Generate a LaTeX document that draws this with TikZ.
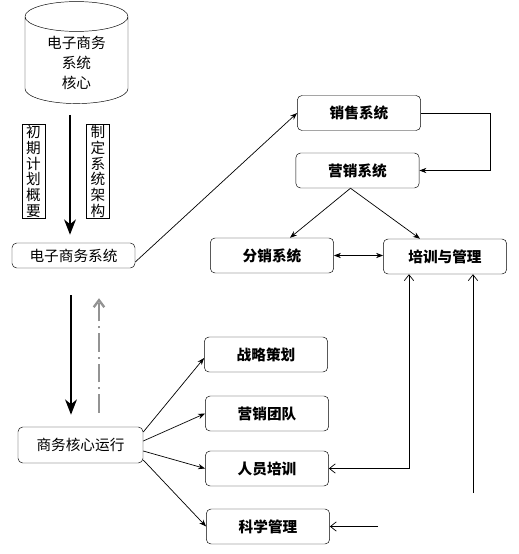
\documentclass[tikz,border=0pt]{standalone}
\usepackage{fontspec}
\setmainfont{Noto Sans CJK SC}
\usetikzlibrary{shapes.geometric,arrows.meta,positioning,calc}

\begin{document}
\begin{tikzpicture}[x=0.03cm, y=-0.03cm,
    box/.style={draw, rounded corners=4pt, minimum width=3.7cm, minimum height=1.05cm, font=\fontsize{12.5}{14}\selectfont},
    boldbox/.style={box, font=\fontsize{12.5}{14}\selectfont\bfseries},
    vlabel/.style={draw, align=center, inner sep=1pt, minimum width=0.69cm, minimum height=2.79cm, font=\fontsize{12.5}{13.4}\selectfont},
    conn/.style={-{Stealth[length=6pt,width=4.5pt]}, line width=0.6pt},
    barb/.style={-{Straight Barb[length=5pt,width=8pt]}, line width=0.6pt},
    bigarrow/.style={-{Stealth[length=13pt,width=10pt,inset=4pt]}, line width=2pt}]
    \useasboundingbox (0,0) rectangle (518,554);

    % core and left column
    \node[draw, cylinder, shape border rotate=90, aspect=0.45, minimum width=3.09cm, minimum height=3.06cm,
          align=center, font=\fontsize{12.5}{17}\selectfont] (core) at (76.5,63) {电子商务\\系统\\核心};
    \node[vlabel] (plan) at (33.5,171.5) {初\\期\\计\\划\\概\\要};
    \node[vlabel] (arch) at (98,171.5) {制\\定\\系\\统\\架\\构};
    \node[box, minimum width=3.69cm, minimum height=0.75cm] (esys) at (73.5,255.5) {电子商务系统};
    \node[box, minimum width=3.75cm, minimum height=1.08cm] (shop) at (80.5,445) {商务核心运行};

    % right part
    \node[boldbox] (sales) at (359,113) {销售系统};
    \node[boldbox] (mkt) at (357.5,170.5) {营销系统};
    \node[boldbox] (dist) at (272,255.5) {分销系统};
    \node[boldbox] (train) at (445,256.5) {培训与管理};
    \node[boldbox] (plan2) at (266,354.5) {战略策划};
    \node[boldbox] (team) at (267,413.5) {营销团队};
    \node[boldbox] (staff) at (267,468.5) {人员培训};
    \node[boldbox] (sci) at (268,526.5) {科学管理};

    \coordinate (up) at (473,493);
    \coordinate (in) at (378,526.5);

    % connectors
    \draw[bigarrow] ($(core.south)+(-6.5,11)$) -- ($(esys.north)+(-3.5,-8)$);
    \draw[bigarrow] ($(esys.south)+(-2.5,27)$) -- ($(shop.north)+(-9.5,-12)$);
    \draw[-{Straight Barb[length=6pt,width=9pt]}, line width=2pt, gray!85, dash pattern=on 16pt off 4pt on 2pt off 4pt]
        ($(shop.north)+(18.5,-14)$) -- ($(esys.south)+(25.5,30)$);
    \draw[conn] ($(esys.east)+(0,6.5)$) -- (sales.west);
    \draw[conn] (sales.east) -- ++(69,0) |- (mkt.east);
    \draw[conn] ($(mkt.south)+(-7,0)$) -- ($(dist.north)+(18,0)$);
    \draw[conn] ($(mkt.south)+(-7,0)$) -- ($(train.north)+(-25,0)$);
    \draw[{Stealth[length=6pt,width=4.5pt]}-{Stealth[length=6pt,width=4.5pt]}, line width=0.6pt] (dist.east) -- (dist.east -| train.west);
    \draw[{Straight Barb[length=5pt,width=8pt]}-{Straight Barb[length=5pt,width=8pt]}, line width=0.6pt]
        (staff.east) -| ($(train.south)+(-36,0)$);
    \draw[barb] (up) -- (up |- train.south);
    \draw[barb] (in) -- (sci.east);
    \draw[conn] ($(shop.east)+(0,-13)$) -- ($(plan2.west)+(0,3.5)$);
    \draw[conn] ($(shop.east)+(0,-4)$) -- (team.west);
    \draw[conn] ($(shop.east)+(0,6)$) -- (staff.west);
    \draw[conn] ($(shop.east)+(0,15)$) -- (sci.west);
\end{tikzpicture}
\end{document}
